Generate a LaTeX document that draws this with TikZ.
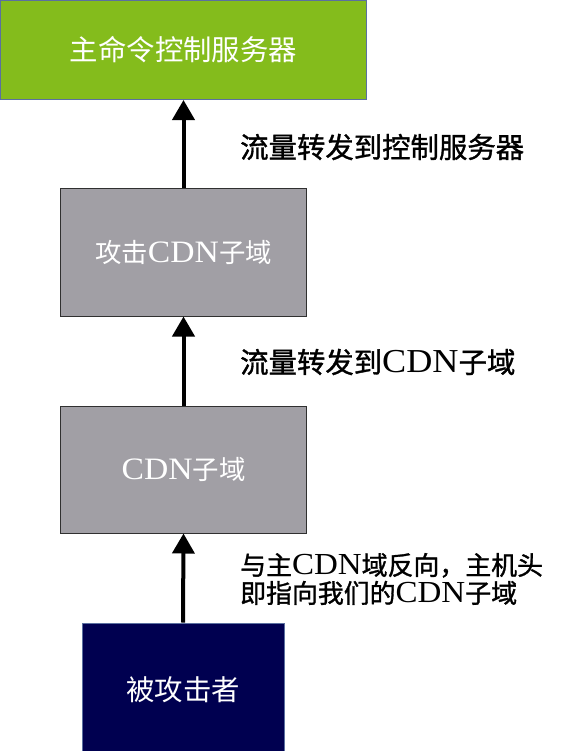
\documentclass[tikz,border=0pt]{standalone}
\usepackage{fontspec}
\setmainfont{Liberation Serif}[Scale=1.18, FakeStretch=1.08]
\newfontfamily\cjk{Noto Sans CJK SC}
\newfontfamily\cjkb{Noto Sans CJK SC}[FakeBold=1.2]
\newcommand\zh[1]{{\cjk #1}}
\newcommand\zb[1]{{\cjkb #1}}
\usetikzlibrary{arrows.meta}
\definecolor{cgreen}{HTML}{84BC1C}
\definecolor{cgray}{HTML}{A19FA5}
\definecolor{cnavy}{HTML}{000050}
\definecolor{cblueb}{HTML}{5B70A0}
\definecolor{cgrayb}{HTML}{303030}
\tikzset{
  box/.style={rectangle, inner sep=0pt, line width=1bp, text=white,
    font=\fontsize{28.5}{30}\selectfont},
  graybox/.style={box, fill=cgray, draw=cgrayb, minimum width=245bp,
    font=\fontsize{26.5}{30}\selectfont},
  lab/.style={anchor=west, inner sep=0pt, text=black, align=left,
    font=\fontsize{28.5}{28}\selectfont},
  flow/.style={line width=4bp, -{Triangle[width=22bp,length=20bp]}},
}
\begin{document}
\begin{tikzpicture}[x=1bp,y=-1bp]
\useasboundingbox (0,0) rectangle (564,751);
\node[box, fill=cgreen, draw=cblueb, minimum width=366bp, minimum height=99bp] (cc) at (183.5,50) {\zh{主命令控制服务器}};
\node[graybox, minimum height=128bp] (atk) at (183.5,252) {\zh{攻击}CDN\zh{子域}};
\node[graybox, minimum height=127bp] (cdn) at (183.5,469.5) {CDN\zh{子域}};
\node[box, fill=cnavy, draw=cblueb, minimum width=202bp, minimum height=132bp] (vic) at (183,689) {};
\node[box] (victxt) at (183,690) {\zh{被攻击者}};
\draw[flow] (vic.north) -- (cdn.south);
\draw[flow] (cdn.north) -- (atk.south);
\draw[flow] (atk.north) -- (cc.south);
\node[lab] (l1) at (240,147) {\zb{流量转发到控制服务器}};
\node[lab] (l2) at (240,362) {\zb{流量转发到}CDN\zb{子域}};
\node[lab, font=\fontsize{26}{28}\selectfont] (l3) at (240,579) {\zb{与主}CDN\zb{域反向，主机头}\\\zb{即指向我们的}CDN\zb{子域}};
\end{tikzpicture}
\end{document}
